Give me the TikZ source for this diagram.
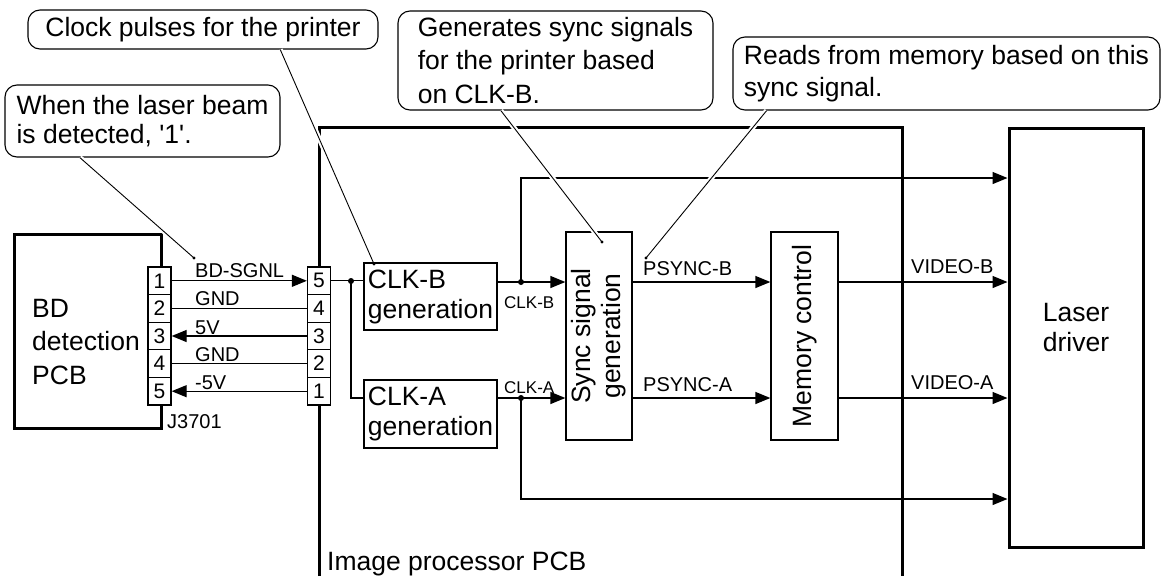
\documentclass[tikz,border=0pt]{standalone}
\usepackage{fontspec}
\setmainfont{Liberation Sans}[Ligatures=TeXOff]
\usetikzlibrary{arrows.meta,calc}
\begin{document}
\begin{tikzpicture}[x=1pt,y=-1pt,
  big/.style={font=\fontsize{26.5}{30}\selectfont},
  small/.style={font=\fontsize{20}{24}\selectfont},
  tiny/.style={font=\fontsize{17}{20}\selectfont},
  wire/.style={line width=1.3pt},
  arr/.style={wire,-{Triangle[length=15pt,width=12pt]}},
  block/.style={draw,line width=1.3pt,fill=white,inner sep=0pt,big,align=left},
  heavy/.style={draw,line width=3pt,inner sep=0pt},
  pin/.style={draw,line width=1.3pt,fill=white,minimum width=23pt,minimum height=27.6pt,inner sep=0pt,font=\fontsize{21}{24}\selectfont},
  lab/.style={small,inner sep=0pt,anchor=base west},
  callout/.style={draw,line width=1.1pt,rounded corners=12pt,big,inner sep=0pt,align=left},
  leader/.style={line width=0.9pt,preaction={draw=white,line width=5pt,shorten >=5pt}}]
\useasboundingbox (0,0) rectangle (1167,576);
% image processor PCB outline
\draw[line width=3pt] (319,576) -- (319,127) -- (902,127) -- (902,576);
\node[lab,big] (ipcb) at (327,570) {Image processor PCB};
% BD detection PCB
\node[heavy,minimum width=147pt,minimum height=194pt] (bd) at (87.5,331) {};
\node[align=left,anchor=west,inner sep=0pt,font=\fontsize{26.5}{33.5}\selectfont] (bdt) at (32,342) {BD\\detection\\PCB};
% connectors
\foreach \i in {1,...,5}{
  \node[pin] (L\i) at (159.5,{280.8+27.6*(\i-1)}) {\i};
  \pgfmathtruncatemacro{\j}{6-\i}
  \node[pin] (R\j) at (319,{280.8+27.6*(\i-1)}) {\j};
}
\node[lab] (j3701) at (167,428) {J3701};
\draw[arr] (L1.east) -- (R5.west);
\draw[wire] (L2.east) -- (R4.west);
\draw[arr] (R3.west) -- (L3.east);
\draw[wire] (L4.east) -- (R2.west);
\draw[arr] (R1.west) -- (L5.east);
\node[lab] (tsg) at (195,277) {BD-SGNL};
\node[lab] (tg1) at (195,305) {GND};
\node[lab] (t5v) at (195,334) {5V};
\node[lab] (tg2) at (195,361) {GND};
\node[lab] (tm5) at (195,389) {-5V};
% blocks
\coordinate (yB) at (0,282);
\coordinate (yA) at (0,398);
\coordinate (yT) at (0,178);
\coordinate (yD) at (0,499);
\node[block,minimum width=133pt,minimum height=67pt] (clkb) at (430.5,296.5) {CLK-B\\generation};
\node[block,minimum width=133pt,minimum height=68pt] (clka) at (430.5,414) {CLK-A\\generation};
\node[block,minimum width=66pt,minimum height=208pt] (sync) at (599,336) {};
\node[big,rotate=90,align=center,inner sep=0pt] (synct) at (599,336) {Sync signal\\generation};
\node[block,minimum width=67pt,minimum height=208pt] (mem) at (804.5,336) {};
\node[big,rotate=90,inner sep=0pt] (memt) at (804.5,336) {Memory control};
\node[heavy,minimum width=134pt,minimum height=419pt] (laser) at (1076,337.5) {};
\node[big,align=center,inner sep=0pt] (lasert) at (1076,328) {Laser\\driver};
% input to clock generators
\coordinate (j1) at (351,281);
\draw[wire] (R5.east) -- (R5.east -| clkb.west);
\draw[wire] (j1) |- (clka.west |- yA);
\fill (j1) circle (3pt);
% clock outputs
\coordinate (j2) at (521,282);
\coordinate (j3) at (521,398);
\draw[arr] (clkb.east |- yB) -- (sync.west |- yB);
\draw[arr] (clka.east |- yA) -- (sync.west |- yA);
\draw[arr] (j2) |- (laser.west |- yT);
\draw[arr] (j3) |- (laser.west |- yD);
\fill (j2) circle (3pt);
\fill (j3) circle (3pt);
\node[tiny,inner sep=0pt,anchor=base west] (tcb) at (504,308) {CLK-B};
\node[tiny,inner sep=0pt,anchor=base west] (tca) at (504,393) {CLK-A};
% sync and video
\draw[arr] (sync.east |- yB) -- (mem.west |- yB);
\draw[arr] (sync.east |- yA) -- (mem.west |- yA);
\draw[arr] (mem.east |- yB) -- (laser.west |- yB);
\draw[arr] (mem.east |- yA) -- (laser.west |- yA);
\node[lab] (tpb) at (643,275) {PSYNC-B};
\node[lab] (tpa) at (643,391) {PSYNC-A};
\node[lab] (tvb) at (911,273) {VIDEO-B};
\node[lab] (tva) at (911,389) {VIDEO-A};
% callouts
\node[callout,minimum width=350pt,minimum height=39pt,align=center] (c1) at (203,29.5) {Clock pulses for the printer};
\node[callout,minimum width=275pt,minimum height=72pt,font=\fontsize{26.5}{29}\selectfont] (c2) at (142.5,121) {When the laser beam\\is detected, '1'.};
\node[callout,minimum width=315pt,minimum height=99pt,font=\fontsize{26.5}{33.5}\selectfont] (c3) at (555.5,60.5) {Generates sync signals\\for the printer based\\on CLK-B.};
\node[callout,minimum width=427pt,minimum height=73pt,font=\fontsize{26.5}{32}\selectfont] (c4) at (946.5,73.5) {Reads from memory based on this\\sync signal.};
\coordinate (d1) at (374,264);
\coordinate (d2) at (194,258);
\coordinate (d3) at (602,242);
\coordinate (d4) at (646,258);
\draw[leader] ($(c1.south west)!0.72!(c1.south east)$) -- (d1);
\draw[leader] ($(c2.south west)!0.273!(c2.south east)$) -- (d2);
\draw[leader] ($(c3.south west)!0.327!(c3.south east)$) -- (d3);
\draw[leader] ($(c4.south west)!0.08!(c4.south east)$) -- (d4);
\foreach \d in {d1,d2,d3,d4} \fill (\d) circle (1.6pt);
\end{tikzpicture}
\end{document}
